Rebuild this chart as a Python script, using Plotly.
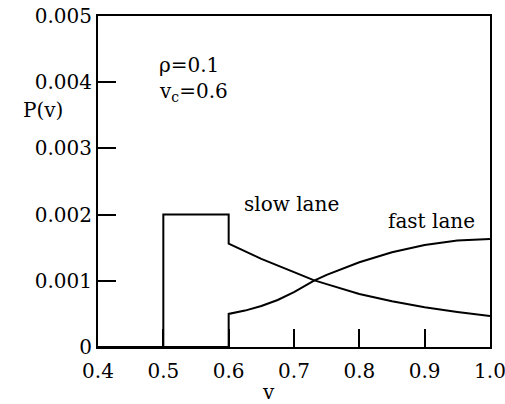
import plotly.graph_objects as go

# slow lane distribution (step at 0.5 and 0.6, then decaying)
v_slow = [0.4, 0.5, 0.5, 0.6, 0.6, 0.65, 0.7, 0.73, 0.75, 0.8, 0.85, 0.9, 0.95, 1.0]
p_slow = [0.0, 0.0, 0.002, 0.002, 0.00156, 0.00133, 0.00113, 0.00101, 0.00095,
          0.0008, 0.00069, 0.0006, 0.00053, 0.00047]

# fast lane distribution (zero below 0.6, then rising)
v_fast = [0.4, 0.6, 0.6, 0.625, 0.65, 0.675, 0.7, 0.73, 0.75, 0.8, 0.85, 0.9, 0.95, 1.0]
p_fast = [0.0, 0.0, 0.0005, 0.00055, 0.00062, 0.00071, 0.00083, 0.001, 0.00109,
          0.00128, 0.00143, 0.00154, 0.00161, 0.00163]

x_ticks = [0.4, 0.5, 0.6, 0.7, 0.8, 0.9, 1.0]
x_labels = ["0.4", "0.5", "0.6", "0.7", "0.8", "0.9", "1.0"]
y_ticks = [0, 0.001, 0.002, 0.003, 0.004, 0.005]
y_labels = ["0", "0.001", "0.002", "0.003", "0.004", "0.005"]

FONT = "DejaVu Serif"
FS = 20

fig = go.Figure()
fig.add_trace(go.Scatter(x=v_slow, y=p_slow, mode="lines",
                         line=dict(color="black", width=2), showlegend=False))
fig.add_trace(go.Scatter(x=v_fast, y=p_fast, mode="lines",
                         line=dict(color="black", width=2), showlegend=False))

fig.update_layout(
    width=505, height=404,
    margin=dict(l=98, r=15, t=16, b=57, autoexpand=False),
    paper_bgcolor="white", plot_bgcolor="white",
    font=dict(family=FONT, size=FS, color="black"),
    xaxis=dict(range=[0.4, 1.0], tickvals=x_ticks, ticktext=x_labels,
               ticks="inside", ticklen=18, tickwidth=2, tickcolor="black",
               showline=True, linecolor="black", linewidth=2, mirror=True,
               showgrid=False, zeroline=False, ticklabelstandoff=5,
               ticklabeloverflow="allow", automargin=False,
               tickfont=dict(family=FONT, size=FS, color="black")),
    yaxis=dict(range=[0, 0.005], tickvals=y_ticks, ticktext=y_labels,
               ticks="inside", ticklen=18, tickwidth=2, tickcolor="black",
               showline=True, linecolor="black", linewidth=2, mirror=True,
               showgrid=False, zeroline=False, ticklabeloverflow="allow",
               automargin=False,
               tickfont=dict(family=FONT, size=FS, color="black")),
    annotations=[
        dict(text="ρ=0.1", xref="paper", yref="paper", x=(157-98)/392, y=(347-65)/331,
             xanchor="left", yanchor="middle", showarrow=False,
             font=dict(family=FONT, size=FS, color="black")),
        dict(text="v<sub>c</sub>=0.6", xref="paper", yref="paper", x=(157-98)/392, y=(347-92)/331,
             xanchor="left", yanchor="middle", showarrow=False,
             font=dict(family=FONT, size=FS, color="black")),
        dict(text="slow lane", xref="paper", yref="paper", x=(242-98)/392, y=(347-204)/331,
             xanchor="left", yanchor="middle", showarrow=False,
             font=dict(family=FONT, size=FS, color="black")),
        dict(text="fast lane", xref="paper", yref="paper", x=(386-98)/392, y=(347-221)/331,
             xanchor="left", yanchor="middle", showarrow=False,
             font=dict(family=FONT, size=FS, color="black")),
        dict(text="P(v)", xref="paper", yref="paper", x=(43-98)/392, y=(347-110)/331,
             xanchor="center", yanchor="middle", showarrow=False,
             font=dict(family=FONT, size=FS, color="black")),
        dict(text="v", xref="paper", yref="paper", x=(268-98)/392, y=(347-378)/331,
             xanchor="center", yanchor="top", showarrow=False,
             font=dict(family=FONT, size=FS, color="black")),
    ],
)

fig.write_html("out.html")
